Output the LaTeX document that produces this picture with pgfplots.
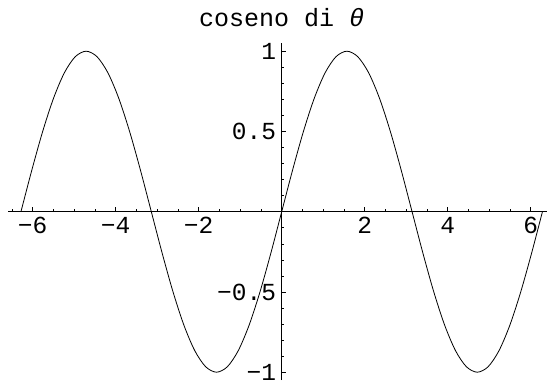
\documentclass[border=0pt]{standalone}
\usepackage{fontspec}
\setmainfont{Liberation Mono}
\usepackage{pgfplots}
\pgfplotsset{compat=1.18}
\begin{document}
\fontsize{25}{30}\selectfont
\begin{tikzpicture}
\begin{axis}[
  at={(0,0)}, anchor=origin,
  x=41.5pt, y=160.5pt,
  xmin=-6.59, xmax=6.45, ymin=-1.05, ymax=1.05,
  axis lines=middle,
  axis line style={line width=0.7pt, -},
  tick align=inside,
  tick style={line width=0.6pt, black},
  major tick length=4.5pt,
  minor tick length=2.6pt,
  xtick={-6,-4,-2,2,4,6},
  xticklabels={−6,−4,−2,2,4,6},
  ytick={-1,-0.5,0.5,1},
  yticklabels={−1,−0.5,0.5,1},
  minor xtick={-6.5,-5.5,-5,-4.5,-3.5,-3,-2.5,-1.5,-1,-0.5,0.5,1,1.5,2.5,3,3.5,4.5,5,5.5},
  minor ytick={-0.9,-0.8,-0.7,-0.6,-0.4,-0.3,-0.2,-0.1,0.1,0.2,0.3,0.4,0.6,0.7,0.8,0.9},
  xticklabel style={font=\fontsize{24.5}{30}\selectfont, inner sep=0pt, yshift=-5pt},
  yticklabel style={font=\fontsize{24.5}{30}\selectfont, inner sep=0pt, xshift=-5.5pt},
]
\addplot[black, line width=0.8pt, smooth] coordinates {
(-6.2832,0) (-6.0214,0.2588) (-5.7596,0.5) (-5.4978,0.7071) (-5.2360,0.8660) (-4.9742,0.9659)
(-4.7124,1) (-4.4506,0.9659) (-4.1888,0.8660) (-3.9270,0.7071) (-3.6652,0.5) (-3.4034,0.2588)
(-3.1416,0) (-2.8798,-0.2588) (-2.6180,-0.5) (-2.3562,-0.7071) (-2.0944,-0.8660) (-1.8326,-0.9659)
(-1.5708,-1) (-1.3090,-0.9659) (-1.0472,-0.8660) (-0.7854,-0.7071) (-0.5236,-0.5) (-0.2618,-0.2588)
(0,0) (0.2618,0.2588) (0.5236,0.5) (0.7854,0.7071) (1.0472,0.8660) (1.3090,0.9659)
(1.5708,1) (1.8326,0.9659) (2.0944,0.8660) (2.3562,0.7071) (2.6180,0.5) (2.8798,0.2588)
(3.1416,0) (3.4034,-0.2588) (3.6652,-0.5) (3.9270,-0.7071) (4.1888,-0.8660) (4.4506,-0.9659)
(4.7124,-1) (4.9742,-0.9659) (5.2360,-0.8660) (5.4978,-0.7071) (5.7596,-0.5) (6.0214,-0.2588)
(6.2832,0)
};
\end{axis}
\node[anchor=base, inner sep=0pt] at (0pt,185pt) {coseno di {\itshape θ}};
\pgfresetboundingbox
\useasboundingbox (-281.7pt,-169.3pt) rectangle (265.3pt,211.7pt);
\end{tikzpicture}
\end{document}
